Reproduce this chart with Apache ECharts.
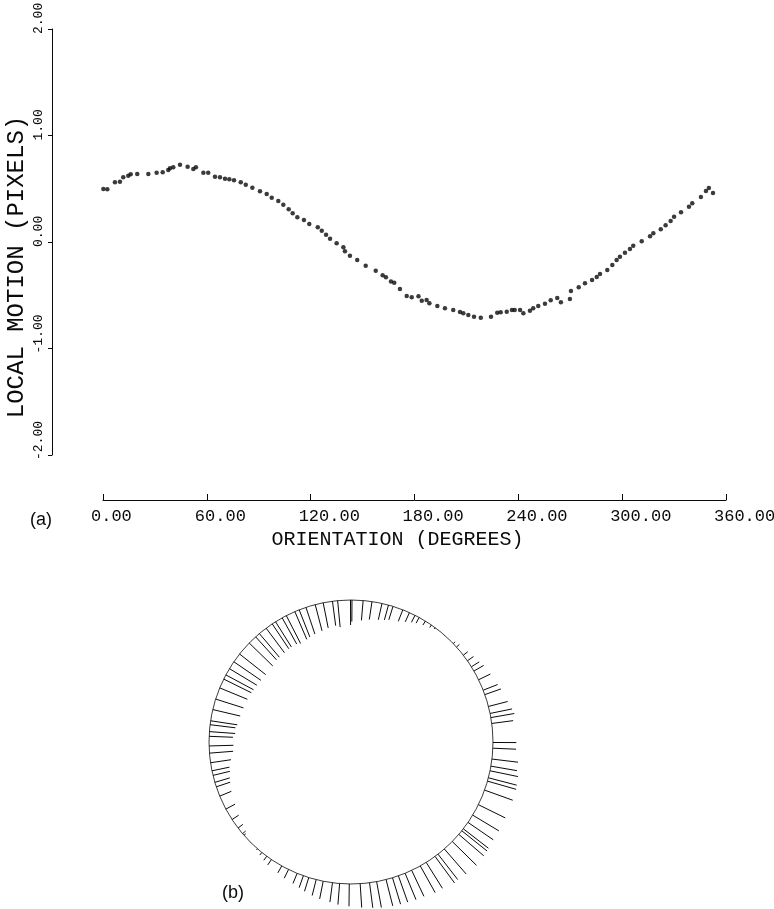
<!DOCTYPE html>
<html><head><meta charset="utf-8">
<script src="https://cdn.jsdelivr.net/npm/echarts@6/dist/echarts.min.js"></script>
<style>html,body{margin:0;padding:0;background:#fff}#c{width:774px;height:909px}</style>
</head><body><div id="c"></div>
<script>
// Orientation (degrees) of each measured point
const orientationDeg = [0.2,2.5,6.9,9.8,11.7,14.6,16.0,19.8,26.2,31.0,34.5,37.7,38.7,40.6,44.5,48.9,52.2,53.7,58.0,60.8,
64.7,67.6,70.5,73.0,75.7,79.6,82.5,86.3,90.7,94.6,97.5,101.3,104.2,107.3,109.6,112.3,116.1,119.2,124.1,126.4,
128.9,131.2,135.0,138.9,139.8,142.7,146.9,151.8,157.6,161.6,163.5,166.4,168.3,171.6,175.5,178.4,182.3,184.2,187.0,188.6,
193.2,197.6,202.4,206.3,208.2,211.1,214.4,218.3,224.2,227.8,229.8,233.3,236.3,237.9,241.0,242.9,246.7,248.6,251.5,255.4,
258.7,262.5,264.6,269.8,270.4,274.9,278.5,282.6,285.3,287.2,291.4,294.3,296.8,298.7,301.6,304.5,306.4,311.3,316.1,318.0,
322.3,325.1,328.0,330.0,334.0,338.6,340.5,345.5,348.4,350.1,352.5];
// Local motion (pixels) at each orientation
const localMotion = [0.498,0.495,0.561,0.566,0.608,0.623,0.636,0.638,0.638,0.651,0.654,0.676,0.692,0.701,0.726,0.707,0.685,0.701,0.651,0.651,
0.613,0.608,0.594,0.589,0.579,0.561,0.538,0.510,0.476,0.451,0.416,0.385,0.350,0.307,0.269,0.232,0.207,0.169,0.138,0.106,
0.069,0.031,-0.012,-0.050,-0.087,-0.129,-0.169,-0.223,-0.269,-0.313,-0.331,-0.371,-0.382,-0.441,-0.507,-0.519,-0.510,-0.551,-0.545,-0.576,
-0.601,-0.623,-0.638,-0.657,-0.669,-0.685,-0.701,-0.711,-0.701,-0.664,-0.660,-0.654,-0.638,-0.638,-0.638,-0.669,-0.645,-0.623,-0.601,-0.579,
-0.547,-0.526,-0.566,-0.535,-0.460,-0.425,-0.388,-0.357,-0.329,-0.300,-0.263,-0.216,-0.169,-0.138,-0.100,-0.066,-0.035,0.007,0.054,0.082,
0.119,0.157,0.197,0.238,0.279,0.331,0.363,0.423,0.479,0.507,0.460];
const xTickLabels = ['0.00','60.00','120.00','180.00','240.00','300.00','360.00'];
const yTickLabels = ['-2.00','-1.00','0.00','1.00','2.00'];
const xTitle = 'ORIENTATION (DEGREES)';
const yTitle = 'LOCAL MOTION (PIXELS)';
const panelLabels = ['(a)','(b)'];

const ink = '#0a0a0a';
const MONO = '"Liberation Mono","DejaVu Sans Mono",monospace';
const points = orientationDeg.map((d, i) => [d, localMotion[i]]);
const VEC_SCALE = 0.33; // vector length per pixel of motion, in circle radii
const HALF = 1.4085;    // axis half-range of panel (b), in circle radii

const chart = echarts.init(document.getElementById('c'), null, {renderer: 'canvas'});
chart.setOption({
  animation: false,
  backgroundColor: '#fff',
  grid: [
    {left: 103, right: 48, top: 29, bottom: 454, outerBoundsMode: 'none', containLabel: false},
    {left: 151, top: 542, width: 400, height: 400, outerBoundsMode: 'none', containLabel: false}
  ],
  xAxis: [{
    gridIndex: 0, type: 'value', min: 0, max: 360, interval: 60, offset: 45,
    axisLine: {show: true, onZero: false, lineStyle: {color: ink, width: 1}},
    axisTick: {show: true, inside: true, length: 6, lineStyle: {color: ink}},
    axisLabel: {formatter: v => xTickLabels[Math.round(v / 60)], fontFamily: MONO, fontSize: 17, color: ink,
      align: 'left', padding: [0, 0, 0, -12], margin: 8},
    splitLine: {show: false},
    name: xTitle, nameLocation: 'middle', nameGap: 30, nameMoveOverlap: false,
    nameTextStyle: {fontFamily: MONO, fontSize: 20, color: ink, padding: [0, 34, 0, 0]}
  }, {
    gridIndex: 1, type: 'value', min: -HALF, max: HALF, show: false
  }],
  yAxis: [{
    gridIndex: 0, type: 'value', min: -2, max: 2, interval: 1, offset: 51,
    axisLine: {show: true, onZero: false, lineStyle: {color: ink, width: 1}},
    axisTick: {show: true, inside: false, length: 4, lineStyle: {color: ink}},
    axisLabel: {rotate: 90, formatter: v => yTickLabels[Math.round(v) + 2], fontFamily: MONO, fontSize: 13,
      color: ink, align: 'left', padding: [0, 0, 0, -5], margin: 7},
    splitLine: {show: false},
    name: yTitle, nameLocation: 'middle', nameRotate: 90, nameGap: 23, nameMoveOverlap: false,
    nameTextStyle: {fontFamily: MONO, fontSize: 24, color: ink, padding: [0, 50, 0, 0]}
  }, {
    gridIndex: 1, type: 'value', min: -HALF, max: HALF, show: false
  }],
  graphic: [
    {type: 'text', left: 30, top: 511, style: {text: panelLabels[0], font: '18px "Liberation Sans", Arial, sans-serif', fill: ink}},
    {type: 'text', left: 222, top: 884, style: {text: panelLabels[1], font: '18px "Liberation Sans", Arial, sans-serif', fill: ink}}
  ],
  series: [{
    type: 'scatter', xAxisIndex: 0, yAxisIndex: 0, data: points,
    symbol: 'circle', symbolSize: 4.5, itemStyle: {color: ink}, silent: true
  }, {
    type: 'custom', xAxisIndex: 1, yAxisIndex: 1, data: [[0, 0]], silent: true,
    renderItem: (p, api) => {
      const c = api.coord([api.value(0), api.value(1)]);
      const r = api.size([1, 1])[0];
      return {type: 'circle', shape: {cx: c[0], cy: c[1], r: r}, style: {fill: 'none', stroke: ink, lineWidth: 0.8}};
    }
  }, {
    type: 'custom', xAxisIndex: 1, yAxisIndex: 1, data: points, silent: true,
    encode: {x: [], y: []},
    renderItem: (p, api) => {
      const a = api.value(0) * Math.PI / 180, m = api.value(1);
      const r1 = 1 + VEC_SCALE * m;
      const p0 = api.coord([Math.cos(a), -Math.sin(a)]);
      const p1 = api.coord([r1 * Math.cos(a), -r1 * Math.sin(a)]);
      return {type: 'line', shape: {x1: p0[0], y1: p0[1], x2: p1[0], y2: p1[1]}, style: {stroke: ink, lineWidth: 1}};
    }
  }]
});
</script></body></html>
